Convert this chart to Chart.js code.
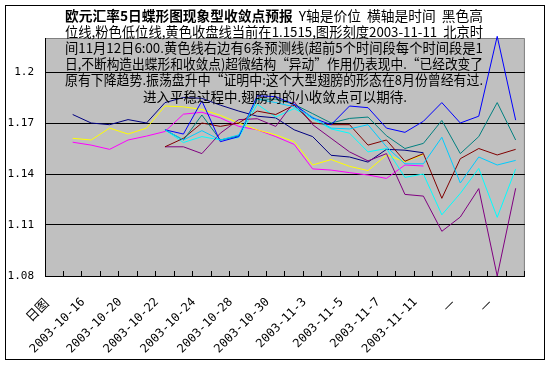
<!DOCTYPE html>
<html>
<head>
<meta charset="utf-8">
<script src="https://cdn.jsdelivr.net/npm/chart.js@4.4.0/dist/chart.umd.min.js"></script>
<style>
    html, body { margin: 0; padding: 0; background: #ffffff; }
    #wrap { width: 551px; height: 366px; }
</style>
</head>
<body>
<div id="wrap"><canvas id="EurChart" width="551" height="366"></canvas></div>
<script>
// x categories (trading days), only every second one is labelled
var categories = ['日图', '2003-10-15', '2003-10-16', '2003-10-17', '2003-10-20', '2003-10-21', '2003-10-22',
    '2003-10-23', '2003-10-24', '2003-10-27', '2003-10-28', '2003-10-29', '2003-10-30', '2003-10-31',
    '2003-11-3', '2003-11-4', '2003-11-5', '2003-11-6', '2003-11-7', '2003-11-10', '2003-11-11',
    '—', '—', '—', '—', '—'];

var yTicks = [1.08, 1.11, 1.14, 1.17, 1.2];

// high / low / close
var highLine = [null, 1.175, 1.170, 1.169, 1.172, 1.170, 1.182, 1.185, 1.1845, 1.1805, 1.177, 1.174, 1.173,
    1.166, 1.162, 1.151, 1.150, 1.147, 1.1545, 1.154, 1.1525, null, null, null, null, null];
var lowLine = [null, 1.1587, 1.157, 1.1545, 1.160, 1.1623, 1.165, 1.1752, 1.1763, 1.173, 1.168, 1.166, 1.162,
    1.1574, 1.143, 1.1423, 1.1408, 1.1394, 1.1374, 1.1453, 1.1447, null, null, null, null, null];
var closeLine = [null, 1.161, 1.160, 1.167, 1.1635, 1.167, 1.180, 1.1795, 1.178, 1.1745, 1.170, 1.166, 1.163,
    1.159, 1.1453, 1.1485, 1.1445, 1.142, 1.1512, 1.1472, 1.1515, null, null, null, null, null];

// 6 forecast lines
var fcCyan = [null, null, null, null, null, null, 1.166, 1.1585, 1.162, 1.160, 1.1615, 1.181, 1.1735, 1.1785,
    1.1725, 1.1665, 1.164, 1.153, 1.155, 1.138, 1.140, 1.116, 1.1286, 1.1433, 1.1145, 1.143];
var fcPurple = [null, null, null, null, null, null, 1.156, 1.156, 1.152, 1.164, 1.172, 1.1725, 1.168, 1.1825,
    1.169, 1.161, 1.153, 1.1477, 1.152, 1.128, 1.127, 1.1063, 1.1147, 1.1314, 1.080, 1.1316];
var fcMaroon = [null, null, null, null, null, null, 1.156, 1.161, 1.170, 1.168, 1.170, 1.177, 1.175, 1.1805,
    1.170, 1.169, 1.169, 1.157, 1.160, 1.1475, 1.152, 1.1257, 1.149, 1.155, 1.1512, 1.1545];
var fcTeal = [null, null, null, null, null, null, 1.166, 1.160, 1.1747, 1.160, 1.1625, 1.184, 1.184, 1.181,
    1.1755, 1.170, 1.1727, 1.1735, 1.1625, 1.155, 1.158, 1.1715, 1.152, 1.162, 1.182, 1.160];
var fcBlue = [null, null, null, null, null, null, 1.166, 1.1635, 1.183, 1.159, 1.162, 1.186, 1.1855, 1.181,
    1.173, 1.169, 1.180, 1.179, 1.167, 1.1645, 1.171, 1.182, 1.170, 1.174, 1.221, 1.1717];
var fcSky = [null, null, null, null, null, null, 1.166, 1.160, 1.1655, 1.160, 1.163, 1.184, 1.182, 1.1795,
    1.1735, 1.167, 1.1665, 1.169, 1.156, 1.146, 1.146, 1.1616, 1.1347, 1.150, 1.1453, 1.148];

var titleLines = [
    '位线,粉色低位线,黄色收盘线当前在1.1515,图形刻度2003-11-11  北京时',
    '间11月12日6:00.黄色线右边有6条预测线(超前5个时间段每个时间段是1',
    '日,不断构造出蝶形和收敛点)超微结构“异动”作用仍表现中.“已经改变了',
    '原有下降趋势.振荡盘升中“证明中:这个大型翅膀的形态在8月份曾经有过.',
    '进入平稳过程中.翅膀内的小收敛点可以期待.'
];
var titleBold = '欧元汇率5日蝶形图现象型收敛点预报';
var titleRest = '  Y轴是价位  横轴是时间  黑色高';

var series = [
    { data: highLine, color: '#000080' },
    { data: lowLine, color: '#ff00ff' },
    { data: closeLine, color: '#ffff00' },
    { data: fcCyan, color: '#00ffff' },
    { data: fcPurple, color: '#800080' },
    { data: fcMaroon, color: '#800000' },
    { data: fcTeal, color: '#008080' },
    { data: fcBlue, color: '#0000ff' },
    { data: fcSky, color: '#00ccff' }
];

var datasets = series.map(function (s, i) {
    return {
        data: s.data,
        borderColor: s.color,
        backgroundColor: s.color,
        borderWidth: 1,
        pointRadius: 0,
        tension: 0,
        clip: false,
        order: series.length - i
    };
});

var cjkFont = '"Noto Sans CJK SC", sans-serif';
var textSize = 13.5;
var textWidth = 418;   // width of the wrapped text box

// squeeze/stretch one line so it fills the text box width
function fitLine(ctx, parts, cx, y, fill) {
    var total = 0;
    parts.forEach(function (p) {
        ctx.font = p.font;
        p.w = ctx.measureText(p.text).width;
        total += p.w;
    });
    var k = fill ? textWidth / total : 1;
    ctx.save();
    ctx.translate(cx - total * k / 2, y);
    ctx.scale(k, 1);
    var x = 0;
    parts.forEach(function (p) {
        ctx.font = p.font;
        ctx.fillText(p.text, x, 0);
        x += p.w;
    });
    ctx.restore();
}

var framePlugin = {
    id: 'frame',
    beforeDraw: function (chart) {
        var ctx = chart.ctx, a = chart.chartArea;
        ctx.save();
        ctx.fillStyle = '#ffffff';
        ctx.fillRect(0, 0, chart.width, chart.height);
        ctx.strokeStyle = '#000000';
        ctx.lineWidth = 1;
        ctx.strokeRect(5.5, 5.5, 539, 354);
        ctx.fillStyle = '#c0c0c0';
        ctx.fillRect(a.left, a.top, a.right - a.left, a.bottom - a.top);
        ctx.strokeStyle = '#808080';
        ctx.beginPath();
        ctx.moveTo(a.left, a.top + 0.5);
        ctx.lineTo(a.right - 0.5, a.top + 0.5);
        ctx.lineTo(a.right - 0.5, a.bottom);
        ctx.stroke();
        ctx.restore();
    },
    afterDatasetsDraw: function (chart) {
        var ctx = chart.ctx;
        var cx = 274, y = 15.5, step = 16.2;
        var normal = textSize + 'px ' + cjkFont;
        var bold = 'bold ' + textSize + 'px ' + cjkFont;
        ctx.save();
        ctx.fillStyle = '#000000';
        ctx.textBaseline = 'middle';
        ctx.textAlign = 'left';
        fitLine(ctx, [{ text: titleBold, font: bold }, { text: titleRest, font: normal }], cx, y, true);
        titleLines.forEach(function (line, i) {
            var last = i === titleLines.length - 1;
            fitLine(ctx, [{ text: line, font: normal }], last ? cx + 1 : cx, y + step * (i + 1), !last);
        });
        ctx.restore();
    }
};

new Chart(document.getElementById('EurChart'), {
    type: 'line',
    data: {
        labels: categories,
        datasets: datasets
    },
    options: {
        responsive: false,
        animation: false,
        layout: { padding: { left: 0, top: 38, right: 15.5, bottom: 0 } },
        plugins: {
            legend: { display: false },
            tooltip: { enabled: false },
            title: { display: false }
        },
        scales: {
            x: {
                offset: true,
                afterFit: function (scale) { scale.height = 90; },
                grid: {
                    offset: true,
                    drawOnChartArea: false,
                    drawTicks: true,
                    tickLength: -5,
                    color: '#000000'
                },
                border: { color: '#000000' },
                ticks: {
                    autoSkip: false,
                    minRotation: 45,
                    maxRotation: 45,
                    padding: 24,
                    labelOffset: -8,
                    color: '#000000',
                    font: function (c) {
                        var lbl = categories[c.index] || '';
                        if (/[0-9]/.test(lbl)) {
                            return { family: '"DejaVu Sans Mono"', size: 12 };
                        }
                        return { family: '"Noto Sans CJK SC"', size: 13 };
                    },
                    callback: function (val, i) {
                        return i % 2 === 0 ? categories[i] : '';
                    }
                }
            },
            y: {
                min: yTicks[0],
                max: 1.22,
                afterFit: function (scale) { scale.width = 45; },
                afterBuildTicks: function (scale) {
                    scale.ticks = yTicks.map(function (v) { return { value: v }; });
                },
                grid: {
                    color: '#000000',
                    drawTicks: false,
                    lineWidth: 1
                },
                border: { color: '#000000' },
                ticks: {
                    includeBounds: false,
                    padding: 11,
                    color: '#000000',
                    font: { family: '"DejaVu Sans Mono"', size: 11 },
                    callback: function (v) { return String(+Number(v).toFixed(2)); }
                }
            }
        }
    },
    plugins: [framePlugin]
});
</script>
</body>
</html>
